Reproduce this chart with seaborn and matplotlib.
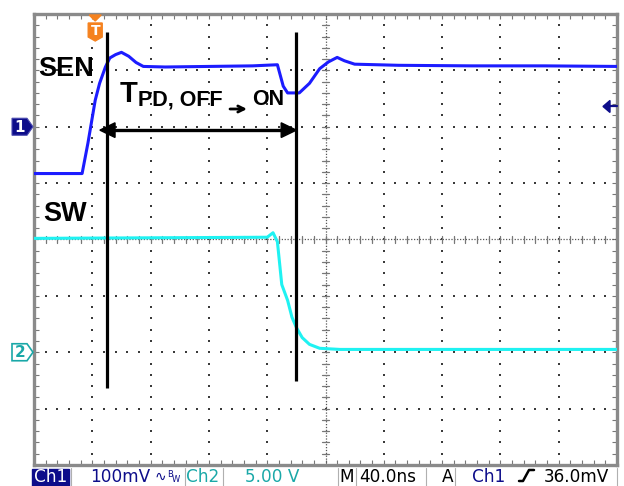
import numpy as np
import pandas as pd
import matplotlib
matplotlib.use("Agg")
import matplotlib.pyplot as plt
import seaborn as sns
from matplotlib.patches import Polygon, Rectangle

# ---------------- data (read from the scope capture) ----------------
sen_time_ns = [0, 33, 37, 42, 45, 49, 52, 56, 60, 65, 70, 75, 90, 120, 150, 167,
               171, 174, 182, 189, 196, 202, 208, 213, 220, 250, 300, 350, 400]
sen_mv = [-83, -83, -29, 47, 77, 106, 122, 128, 132, 125, 114, 107, 106, 107, 108, 110,
          72, 60, 60, 77, 103, 115, 123, 117, 111, 109, 108, 108, 107]
sw_time_ns = [0, 160, 164, 167, 170, 174, 177, 180, 184, 189, 196, 210, 400]
sw_v = [10.1, 10.2, 10.6, 9.8, 6.0, 4.6, 3.1, 2.2, 1.3, 0.7, 0.35, 0.25, 0.25]
cursor_ns = [50, 180]
trigger_ns = 42
trigger_level_mv = 36
ch1_offset_div = 6
ch2_offset_div = 2
ch1_mv_per_div = 100
ch2_v_per_div = 5
ns_per_div = 40
trace_labels = ["SEN", "SW"]
status_left = ["Ch1", "100mV", "Ch2", "5.00 V"]
status_right = ["M", "40.0ns", "A", "Ch1", "36.0mV"]

# ---------------- figure ----------------
sns.set_style("white")
plt.rcParams['font.family'] = ['DejaVu Sans']
W, H = 624, 486
fig = plt.figure(figsize=(W / 100, H / 100), dpi=100)
fig.patch.set_facecolor("white")
L, R, T, B = 34, 617, 14, 465
ax = fig.add_axes([L / W, 1 - B / H, (R - L) / W, (B - T) / H])
ax.set_xlim(0, 10)
ax.set_ylim(0, 8)

df_sen = pd.DataFrame({"x": np.array(sen_time_ns) / ns_per_div,
                       "y": ch1_offset_div + np.array(sen_mv) / ch1_mv_per_div})
df_sw = pd.DataFrame({"x": np.array(sw_time_ns) / ns_per_div,
                      "y": ch2_offset_div + np.array(sw_v) / ch2_v_per_div})

# ---------------- graticule ----------------
minor = np.arange(0, 10.001, 0.2)
minor_y = np.arange(0, 8.001, 0.2)
dot_c = "#3a3a3a"
for k in range(1, 10):
    if k == 5:
        continue
    ax.scatter(np.full_like(minor_y, k), minor_y, s=1.4, marker='s',
               color=dot_c, linewidths=0, zorder=1)
for k in range(1, 8):
    if k == 4:
        continue
    ax.scatter(minor, np.full_like(minor, k), s=1.4, marker='s',
               color=dot_c, linewidths=0, zorder=1)
ax.axvline(5, color="#555555", lw=0.9, ls=(0, (1, 1.3)), zorder=1)
ax.axhline(4, color="#555555", lw=0.9, ls=(0, (1, 1.3)), zorder=1)
for v in minor:
    ax.plot([v, v], [4 - 0.055, 4 + 0.055], color="#777777", lw=0.9, zorder=1)
for v in minor_y:
    ax.plot([5 - 0.055, 5 + 0.055], [v, v], color="#777777", lw=0.9, zorder=1)

ax.set_xticks([])
ax.set_yticks([])
ax.set_xticks(minor, minor=True)
ax.set_yticks(minor_y, minor=True)
ax.tick_params(which='minor', direction='in', length=3.5, width=0.8,
               color="#777777", top=True, bottom=True, left=True, right=True,
               labelbottom=False, labelleft=False)
for s in ax.spines.values():
    s.set_color("#8a8a8a")
    s.set_linewidth(2.4)

# ---------------- traces ----------------
sns.lineplot(data=df_sen, x="x", y="y", ax=ax, color="#1c1cff", lw=2.2,
             sort=False, estimator=None, zorder=3)
sns.lineplot(data=df_sw, x="x", y="y", ax=ax, color="#1ff2f2", lw=2.2,
             sort=False, estimator=None, zorder=3)
ax.set_xlabel("")
ax.set_ylabel("")

# ---------------- cursors and arrow ----------------
c1, c2 = cursor_ns[0] / ns_per_div, cursor_ns[1] / ns_per_div
ax.plot([c1, c1], [1.365, 7.68], color="black", lw=2.3, zorder=4,
        solid_capstyle='butt')
ax.plot([c2, c2], [1.49, 7.68], color="black", lw=2.3, zorder=4,
        solid_capstyle='butt')
ay = 5.94
left_tip = c1 - 0.12
hl, hh = 0.26, 0.13
ax.plot([left_tip + hl * 0.5, c2 - hl * 0.5], [ay, ay], color="black", lw=2.4,
        zorder=4)
ax.add_patch(Polygon([[left_tip, ay], [left_tip + hl, ay + hh], [left_tip + hl, ay - hh]],
                     closed=True, color="black", zorder=5))
ax.add_patch(Polygon([[c2, ay], [c2 - hl, ay + hh], [c2 - hl, ay - hh]],
                     closed=True, color="black", zorder=5))

# ---------------- overlay in pixel coordinates ----------------
ov = fig.add_axes([0, 0, 1, 1], zorder=10)
ov.set_xlim(0, W)
ov.set_ylim(H, 0)
ov.axis('off')
ov.patch.set_alpha(0)

bold = dict(family=['Liberation Sans', 'DejaVu Sans'], weight='bold', color='black')
ov.text(38, 76, trace_labels[0], fontsize=19.5, va='baseline', ha='left', **bold)
ov.text(43, 221, trace_labels[1], fontsize=19.5, va='baseline', ha='left', **bold)
ov.text(120, 102, "T", fontsize=21, va='baseline', ha='left', **bold)
ov.text(138, 105, "PD, OFF", fontsize=15.5, va='baseline', ha='left', **bold)
ov.text(252, 105, "ON", fontsize=15.5, va='baseline', ha='left', **bold)
ov.annotate("", xy=(247, 109), xytext=(230, 109),
            arrowprops=dict(arrowstyle='->', color='black', lw=2,
                            mutation_scale=11, shrinkA=0, shrinkB=0))

navy = "#0d0d8a"
teal = "#1aa8a8"
# channel 1 marker
ch1_y = B - ch1_offset_div * (B - T) / 8
ov.add_patch(Polygon([[12, ch1_y - 8.5], [27, ch1_y - 8.5], [33, ch1_y],
                      [27, ch1_y + 8.5], [12, ch1_y + 8.5]], closed=True,
                     facecolor=navy, edgecolor="#4a4ab0", lw=0.8))
ov.text(20, ch1_y + 0.5, "1", color="white", fontsize=11, weight='bold',
        ha='center', va='center')
# channel 2 marker
ch2_y = B - ch2_offset_div * (B - T) / 8
ov.add_patch(Polygon([[12, ch2_y - 8.5], [27, ch2_y - 8.5], [33, ch2_y],
                      [27, ch2_y + 8.5], [12, ch2_y + 8.5]], closed=True,
                     facecolor="white", edgecolor=teal, lw=1.2))
ov.text(20, ch2_y + 0.5, "2", color=teal, fontsize=11, weight='bold',
        ha='center', va='center')
# trigger position marker
tx = L + trigger_ns / ns_per_div * (R - L) / 10
orange = "#f5821f"
ov.add_patch(Polygon([[tx - 6, 15], [tx + 6, 15], [tx, 21]], closed=True,
                     color=orange))
ov.add_patch(Polygon([[tx - 7, 23], [tx + 7, 23], [tx + 7, 37], [tx, 41],
                      [tx - 7, 37]], closed=True, color=orange))
ov.text(tx, 31, "T", color="white", fontsize=10, weight='bold',
        ha='center', va='center')
# trigger level marker
ly = B - (ch1_offset_div + trigger_level_mv / ch1_mv_per_div) * (B - T) / 8
ov.add_patch(Polygon([[603, ly], [610, ly - 6], [610, ly + 6]], closed=True,
                     color=navy))
ov.plot([608, 617], [ly, ly], color=navy, lw=1.6)

# ---------------- status bar ----------------
fs = 12.2
base = 481.5
ov.add_patch(Rectangle((32, 468.5), 37, 17, color=navy))
ov.text(34, base, status_left[0], color="white", fontsize=fs, va='baseline')
ov.text(90, base, status_left[1], color=navy, fontsize=fs, va='baseline')
ov.text(155, base - 1, "\u223f", color=navy, fontsize=10, va='baseline')
ov.text(167, base - 5, "B", color=navy, fontsize=6, va='baseline')
ov.text(172, base, "W", color=navy, fontsize=6, va='baseline')
ov.text(186, base, status_left[2], color=teal, fontsize=fs, va='baseline')
ov.text(245, base, status_left[3], color=teal, fontsize=fs, va='baseline')
ov.text(339, base, status_right[0], color="black", fontsize=fs, va='baseline')
ov.text(359, base, status_right[1], color="black", fontsize=fs, va='baseline')
ov.text(442, base, status_right[2], color="black", fontsize=fs, va='baseline')
ov.text(472, base, status_right[3], color=navy, fontsize=fs, va='baseline')
ov.plot([519, 523, 529, 534], [481, 481, 470, 470], color="black", lw=1.8)
ov.text(544, base, status_right[4], color="black", fontsize=fs, va='baseline')
for sx in [71, 185, 223, 338, 356, 426, 455, 617]:
    ov.plot([sx, sx], [468, 486], color="#b0b0b0", lw=0.8)

fig.savefig("out.png", dpi=100, facecolor="white")
